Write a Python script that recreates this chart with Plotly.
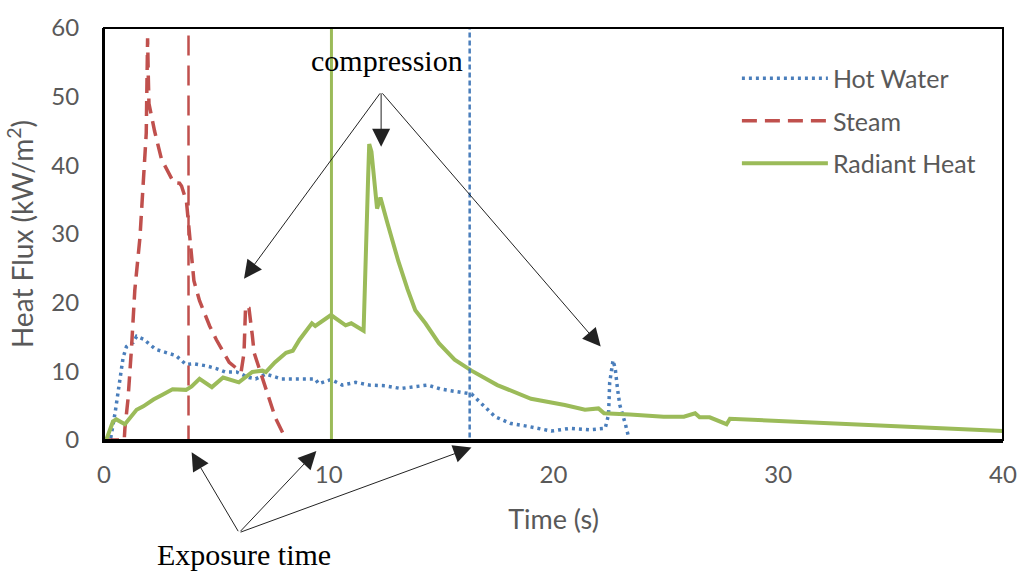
import plotly.graph_objects as go

# Heat flux measurements (time in s, flux in kW/m2)
hot_water_t = [0.0, 0.3, 0.5, 0.7, 0.85, 1.0, 1.15, 1.3, 1.45, 1.75, 2.0, 2.3, 2.7, 3.2, 3.65,
               4.0, 4.55, 5.0, 5.4, 5.9, 6.45, 6.75, 7.2, 7.9, 8.7, 9.4, 9.55, 10.1, 10.6, 11.2,
               11.8, 12.5, 13.2, 13.7, 14.4, 15.0, 15.75, 16.35, 16.7, 17.4, 18.1, 18.85, 19.9,
               20.75, 21.6, 22.3, 22.45, 22.5, 22.65, 22.75, 22.85, 22.95, 23.2, 23.35]
hot_water_q = [0.0, 0.3, 4.1, 8.4, 12.0, 13.6, 14.0, 14.2, 15.1, 14.7, 14.0, 13.2, 12.8, 12.3, 11.0,
               11.1, 10.8, 10.4, 9.9, 9.9, 9.1, 8.9, 9.6, 8.9, 8.9, 8.9, 8.2, 8.8, 8.0, 8.4,
               8.0, 7.9, 7.5, 7.7, 8.0, 7.4, 7.0, 6.7, 5.6, 3.4, 2.4, 2.0, 1.3,
               1.7, 1.5, 1.7, 3.7, 8.4, 11.6, 10.3, 7.4, 5.1, 2.3, 0.3]

steam_t = [0.0, 0.9, 0.93, 1.07, 1.22, 1.3, 1.37, 1.6, 1.73, 1.82, 1.88, 1.9, 1.94, 1.97, 2.0,
           2.25, 2.55, 2.7, 3.1, 3.36, 3.45, 3.67, 3.95, 4.0, 4.25, 4.7, 5.0, 5.57, 6.1, 6.23,
           6.3, 6.45, 6.6, 6.68, 7.25, 7.63, 8.08]
steam_q = [0.0, 0.0, 1.7, 6.0, 13.2, 18.9, 21.8, 29.5, 36.0, 40.0, 44.7, 49.5, 58.5, 53.0, 49.0,
           45.0, 41.0, 40.0, 37.5, 37.4, 37.0, 34.7, 25.6, 23.2, 20.3, 16.6, 14.6, 11.3, 9.9, 12.7,
           19.5, 19.2, 15.2, 12.7, 7.0, 3.2, 0.2]

radiant_t = [0.0, 0.1, 0.4, 0.55, 0.93, 1.15, 1.45, 1.75, 2.2, 2.6, 3.05, 3.65, 3.9, 4.25, 4.8,
             5.3, 5.7, 6.0, 6.6, 7.05, 7.2, 7.6, 8.1, 8.4, 8.7, 9.25, 9.4, 10.1, 10.75, 11.0,
             11.55, 11.65, 11.75, 11.8, 11.9, 12.15, 12.3, 12.6, 13.1, 13.5, 13.85, 14.3, 14.9,
             15.6, 16.35, 17.5, 19.0, 20.5, 21.4, 22.0, 22.25, 23.4, 24.9, 25.8, 26.3, 26.5,
             26.95, 27.7, 27.85, 40.0]
radiant_q = [0.0, 0.0, 2.7, 3.0, 2.3, 3.1, 4.4, 4.9, 5.9, 6.6, 7.4, 7.3, 7.8, 8.9, 7.7,
             9.1, 8.7, 8.4, 9.9, 10.1, 9.9, 11.3, 12.7, 13.0, 14.6, 17.0, 16.6, 18.2, 16.7, 17.0,
             15.9, 25.0, 38.0, 43.1, 42.0, 33.7, 35.3, 31.7, 26.0, 22.0, 18.9, 17.0, 14.1,
             11.7, 10.1, 8.0, 6.0, 5.1, 4.4, 4.6, 3.9, 3.7, 3.4, 3.4, 3.9, 3.3,
             3.3, 2.3, 3.1, 1.3]

# End of exposure for each condition (s)
exposure_end = {"Steam": 3.76, "Radiant Heat": 10.12, "Hot Water": 16.27}

Y_MAX = 60

BLUE = "#4A7EBB"
RED = "#C0504D"
GREEN = "#9BBB59"
GREY = "#595959"
SANS = "Lato"
SERIF = "Liberation Serif, Times New Roman, serif"

fig = go.Figure()

fig.add_trace(go.Scatter(x=hot_water_t, y=hot_water_q, mode="lines", name="Hot Water",
                         legendgroup="a",
                         line=dict(color=BLUE, width=3.5, dash="3px,4px")))
fig.add_trace(go.Scatter(x=steam_t, y=steam_q, mode="lines", name="Steam",
                         legendgroup="b",
                         line=dict(color=RED, width=3.5, dash="15px,8px")))
fig.add_trace(go.Scatter(x=radiant_t, y=radiant_q, mode="lines", name="Radiant Heat",
                         legendgroup="c",
                         line=dict(color=GREEN, width=4)))

# Vertical markers at the end of each exposure
vstyles = {"Steam": dict(color=RED, width=2.5, dash="20px,10px"),
           "Radiant Heat": dict(color=GREEN, width=3),
           "Hot Water": dict(color=BLUE, width=2.5, dash="5px,3px")}
for name, t_end in exposure_end.items():
    fig.add_trace(go.Scatter(x=[t_end, t_end], y=[-0.8, Y_MAX], mode="lines",
                             line=vstyles[name], showlegend=False, hoverinfo="skip",
                             cliponaxis=False))

ARROW = dict(showarrow=True, arrowhead=2, arrowsize=3.6, arrowwidth=1,
             arrowcolor="#222222", standoff=0, startstandoff=0, text="")

# Annotation: compression events
fig.add_annotation(x=12.6, y=55.2, text="compression", showarrow=False,
                   font=dict(family=SERIF, size=30, color="black"))
comp_origin = (12.33, 50.7)
for tx, ty in [(6.23, 23.5), (12.33, 42.7), (22.1, 13.6)]:
    fig.add_annotation(x=tx, y=ty, ax=comp_origin[0], ay=comp_origin[1],
                       axref="x", ayref="y", **ARROW)

# Annotation: exposure time (below the axis, positioned in axis-domain units)
fig.add_annotation(x=6.23, y=-19.3 / Y_MAX, yref="y domain", text="Exposure time",
                   showarrow=False, font=dict(family=SERIF, size=30, color="black"))
exp_origin = (6.01, -13.5)
for tx, ty in [(3.9, -1.8), (9.45, -1.6), (16.35, -1.1)]:
    fig.add_annotation(x=tx, y=ty / Y_MAX, yref="y domain",
                       ax=exp_origin[0], ay=exp_origin[1] / Y_MAX,
                       axref="x", ayref="y domain", **ARROW)

# Plot frame
fig.add_shape(type="rect", xref="paper", yref="paper", x0=0, y0=0, x1=1, y1=1,
              line=dict(color="black", width=2), layer="above")

fig.update_layout(
    width=1029, height=575,
    margin=dict(l=104, r=19, t=20, b=135),
    paper_bgcolor="white", plot_bgcolor="white",
    font=dict(family=SANS, color=GREY),
    showlegend=True,
    legend=dict(x=0.704, y=0.933, xanchor="left", yanchor="top",
                font=dict(family=SANS, size=25, color=GREY),
                bgcolor="rgba(0,0,0,0)", tracegroupgap=7, itemwidth=86),
    xaxis=dict(range=[0, 40], tickvals=[0, 10, 20, 30, 40], showgrid=False, zeroline=False,
               showline=True, linecolor="black", linewidth=3, ticks="",
               ticklabelstandoff=11,
               tickfont=dict(family=SANS, size=24, color=GREY),
               title=dict(text="Time (s)", font=dict(family=SANS, size=27, color=GREY),
                          standoff=24)),
    yaxis=dict(range=[0, Y_MAX], tickvals=[0, 10, 20, 30, 40, 50, 60], showgrid=False,
               zeroline=False, showline=True, linecolor="black", linewidth=2, ticks="",
               ticklabelstandoff=18,
               tickfont=dict(family=SANS, size=24, color=GREY),
               title=dict(text="Heat Flux (kW/m<sup>2</sup>)",
                          font=dict(family=SANS, size=28, color=GREY), standoff=10)),
)

fig.write_html("out.html")
